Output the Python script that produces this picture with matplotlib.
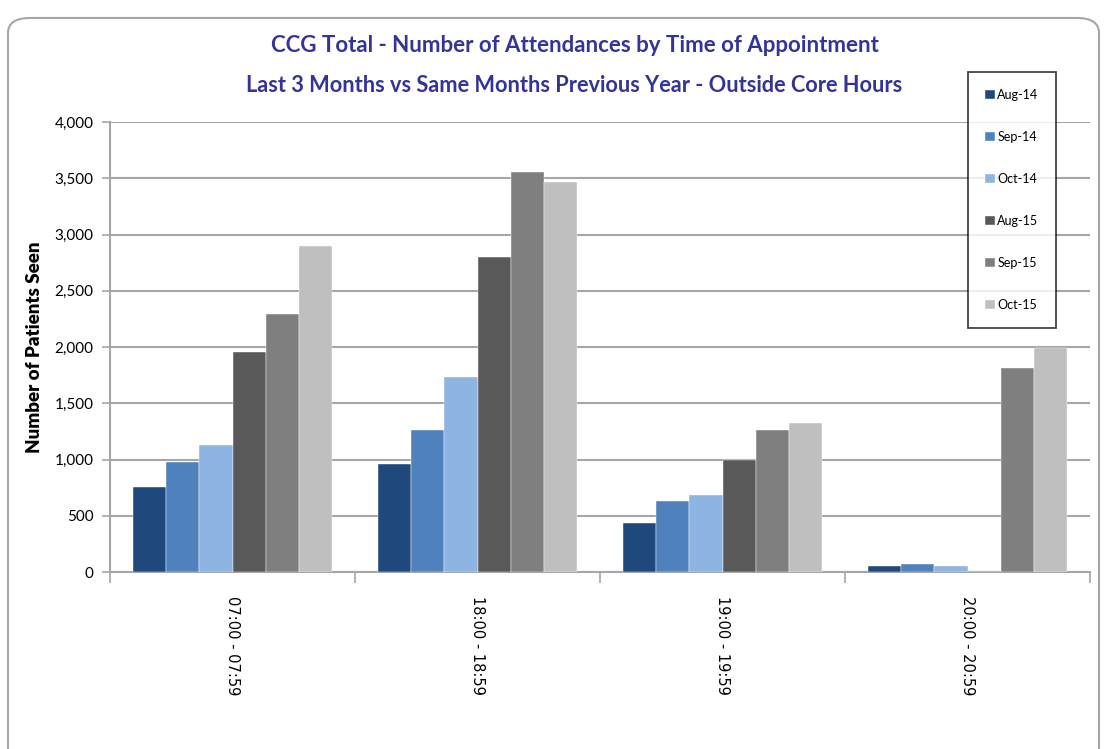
"""
CCG Total - attendances by time of appointment, outside core hours
- grouped bars, 3 months vs same months previous year
"""

import numpy as np
from matplotlib import pyplot as plt
from matplotlib.patches import FancyBboxPatch

# Data
time_slots = ['07:00 - 07:59', '18:00 - 18:59', '19:00 - 19:59', '20:00 - 20:59']
months = ['Aug-14', 'Sep-14', 'Oct-14', 'Aug-15', 'Sep-15', 'Oct-15']

aug_14 = [760, 963, 440, 56]
sep_14 = [975, 1260, 628, 69]
oct_14 = [1133, 1735, 685, 56]
aug_15 = [1958, 2797, 1000, 0]
sep_15 = [2295, 3553, 1259, 1812]
oct_15 = [2900, 3464, 1328, 1988]

series = [aug_14, sep_14, oct_14, aug_15, sep_15, oct_15]
colors = ['#1F497D', '#4F81BD', '#8EB4E3', '#595959', '#7F7F7F', '#BFBFBF']

plt.rcParams['font.family'] = ['Lato', 'DejaVu Sans']

fig = plt.figure(figsize=(11.07, 7.49), dpi=100)

# Rounded outer frame
frame = FancyBboxPatch(
    (8 / 1107, -0.05), 1091 / 1107, 1 - 18 / 749 + 0.05,
    boxstyle='round,pad=0,rounding_size=0.02',
    transform=fig.transFigure,
    facecolor='white',
    edgecolor='#A6A6A6',
    linewidth=1.5,
    zorder=-5
)
fig.patches.append(frame)

ax = fig.add_axes([110 / 1107, 1 - 572 / 749, 980 / 1107, 450 / 749])
ax.set_facecolor('none')

x = np.arange(len(time_slots))
width = 0.135

for i, (vals, col, lab) in enumerate(zip(series, colors, months)):
    ax.bar(
        x + (i - 2.5) * width,
        vals,
        width=width,
        color=col,
        edgecolor='white',
        linewidth=0.3,
        label=lab,
        zorder=3
    )

ax.set_xlim(-0.5, 3.5)
ax.set_ylim(0, 4000)
ax.set_yticks(range(0, 4001, 500))
ax.set_yticklabels([f'{v:,}' for v in range(0, 4001, 500)], fontsize=11)
ax.yaxis.grid(True, color='#A6A6A6', linewidth=1.5, zorder=0)

# Category labels between boundary ticks
ax.set_xticks(np.arange(-0.5, 4, 1))
ax.set_xticklabels([])
ax.set_xticks(x, minor=True)
ax.set_xticklabels(time_slots, minor=True, rotation=-90,
                   family='DejaVu Sans', fontsize=10.5)
ax.tick_params(axis='x', which='major', length=8, color='#A6A6A6', width=1.2)
ax.tick_params(axis='x', which='minor', length=0, pad=17)
ax.tick_params(axis='y', length=6, color='#A6A6A6', width=1.2, pad=6)

for side in ['top', 'right']:
    ax.spines[side].set_visible(False)
for side in ['left', 'bottom']:
    ax.spines[side].set_color('#A6A6A6')
    ax.spines[side].set_linewidth(1.5)

ax.set_ylabel('Number of Patients Seen', fontsize=13.5, fontweight='heavy', labelpad=8)

# Title
fig.text(0.519, 1 - 45 / 749, 'CCG Total - Number of Attendances by Time of Appointment',
         ha='center', va='center', fontsize=16, fontweight='bold', color='#333399')
fig.text(0.519, 1 - 86 / 749, 'Last 3 Months vs Same Months Previous Year - Outside Core Hours',
         ha='center', va='center', fontsize=15.7, fontweight='bold', color='#333399')

# Legend
leg = fig.legend(
    loc='upper left',
    bbox_to_anchor=(968 / 1107, 1 - 72 / 749),
    fontsize=9,
    frameon=True,
    fancybox=False,
    edgecolor='black',
    handlelength=0.8,
    handleheight=0.8,
    handletextpad=0.2,
    labelspacing=2.4,
    borderpad=1.35,
    borderaxespad=0
)
leg.get_frame().set_linewidth(1.2)

plt.savefig('out.png', dpi=100)
